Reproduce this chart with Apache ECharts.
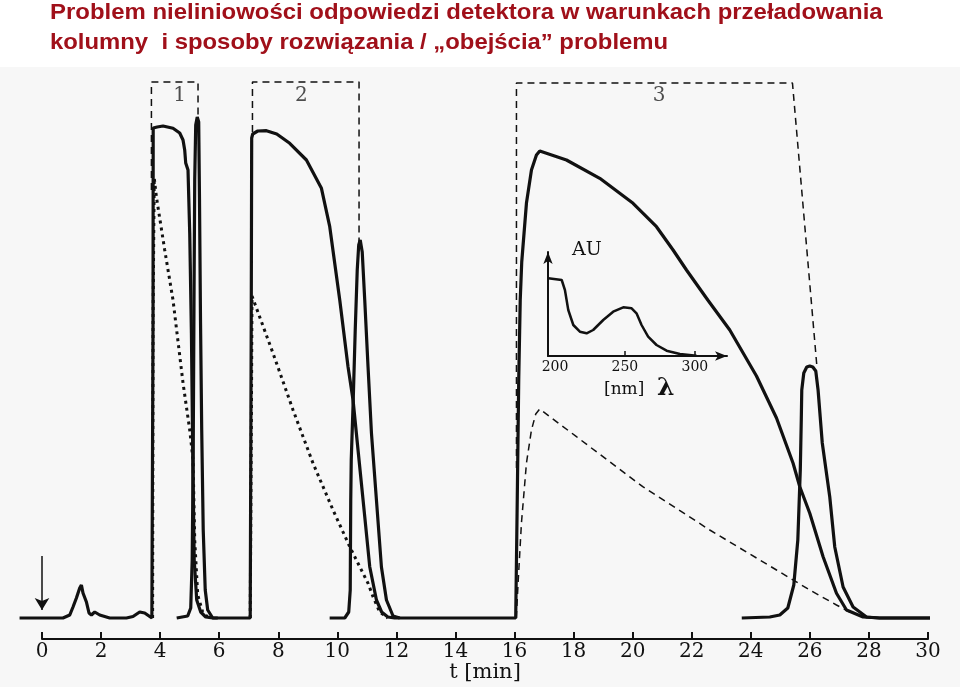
<!DOCTYPE html>
<html><head><meta charset="utf-8">
<script src="https://cdn.jsdelivr.net/npm/echarts@6/dist/echarts.min.js"></script>
<style>html,body{margin:0;padding:0;background:#fff}#c{width:960px;height:687px}</style>
</head><body><div id="c"></div>
<script>
// ---- Main chromatogram: time [min] vs detector signal (arbitrary units) ----
const mainT = [-0.76,0.71,0.94,1.05,1.165,1.277,1.334,1.388,1.504,1.592,1.673,1.785,1.954,2.293,2.858,3.082,3.308,3.477,3.647,3.72,3.75,3.76,3.765,3.9,4.098,4.436,4.663,4.775,4.832,4.866,4.944,5.002,5.059,5.103,5.154,5.239,5.374,5.544,5.78,7.05,7.085,7.10,7.135,7.307,7.599,7.948,8.388,8.953,9.462,9.743,10.082,10.362,10.532,10.701,10.928,11.097,11.324,11.50,11.71,11.94,16.04,16.058,16.092,16.142,16.193,16.244,16.404,16.573,16.742,16.854,17.758,18.886,20.013,20.806,21.368,21.822,22.543,23.288,24.192,24.870,25.432,25.659,25.997,26.448,26.901,27.240,27.802,28.365,30.12];
const mainV = [0,0,3,11,20,30,33,25,16,5,3,6,3,0,0,1.5,6,5,1.5,0,0,300,490,491,492,489.7,485,478,468,455,448,385,285,168,58,18,6,1,0,0,300,480,484,487,487.3,484,474.7,458,429.7,391.3,318,251.3,218,168,101.3,51.3,18,6,1,0,0,0,118,238,318,356,415,448,463,467,458,439.7,414.7,391.3,368,348,318,288,242,200,154.7,131.3,104.7,61.3,24.7,8,1,0,0];

const spike1T = [4.561,4.934,5.036,5.086,5.12,5.147,5.171,5.205,5.256,5.306,5.333,5.367,5.408,5.459,5.527,5.611,5.78,5.95];
const spike1V = [0,2,10,58,168,318,438,493,501,496,418,298,188,88,28,8,0,0];

const spike2T = [9.74,10.251,10.386,10.437,10.454,10.471,10.538,10.606,10.674,10.724,10.775,10.843,10.928,11.040,11.155,11.324,11.493,11.663,11.886,12.113];
const spike2V = [0,0,6,28,118,158,218,288,348,373,378,366,318,251,185,118,51,18,2,0];

const spike3T = [23.694,24.643,24.982,25.253,25.456,25.592,25.676,25.709,25.726,25.794,25.895,25.997,26.099,26.200,26.278,26.42,26.674,26.843,27.125,27.464,27.918,28.36,30.12];
const spike3V = [0,1,3,10,33,78,148,198,228,245,251,252,251,247,228,175,121,71,31,11,1,0,0];

const dot1T = [3.745,3.76,3.80,3.874,4.155,4.436,4.775,5.002,5.114,5.171,5.273,5.44,5.61];
const dot1V = [0,300,440,421,368,318,235,188,158,78,23,6,1];

const dot2T = [7.05,7.09,7.11,7.145,7.823,8.5,9.177,9.854,10.420,10.758,11.040,11.209,11.436,11.707];
const dot2V = [0,200,322,321,264.7,208,154.7,108,71.3,51.3,34.7,21.3,6,0];

const dash3T = [16.06,16.065,16.126,16.234,16.404,16.573,16.718,16.854,18.097,20.342,22.611,24.870,25.997,26.901,27.28,27.52];
const dash3V = [0,1.3,38,95,155,188,204,209,181.3,131.3,88,48,28,13,7,4];

// dashed "true peak" boxes
const box1T = [3.705,3.705,5.283,5.283];   const box1V = [428,536,536,501];
const box2T = [7.126,7.126,10.735,10.735]; const box2V = [486,536,536,373];
const box3T = [16.065,16.065,25.411,26.234]; const box3V = [150,535,535,253];

const boxLabels = ['1','2','3'];
const boxLabelT = [4.663,8.783,20.894];
const boxLabelV = [522,522,522];

const injectT = [0,0];
const injectV = [62,8];

// ---- Inset: UV spectrum ----
const specNm = [195.2,204.8,207.1,209.5,213.1,217.8,222.6,227.3,234.5,241.6,248.8,254.8,258.3,261.9,266.6,272.6,279.8,289.3,301.2];
const specAU = [0.777,0.76,0.66,0.46,0.31,0.243,0.227,0.26,0.36,0.443,0.487,0.477,0.427,0.31,0.193,0.11,0.053,0.02,0.003];
const specTicks = [200,250,300];

const T_MIN_DATA = -0.76;  // trace starts a little before t = 0

const zip = (a,b) => a.map((v,i)=>[v,b[i]]);
const INK = '#111';
const solid = (name, t, v) => ({name, type:'line', data:zip(t,v), showSymbol:false, clip:false,
  lineStyle:{color:INK, width:3.2}, z:3, silent:true});
const dotted = (name, t, v) => ({name, type:'line', data:zip(t,v), showSymbol:false, clip:false,
  lineStyle:{color:INK, width:3, type:[3,4]}, z:2, silent:true});
const dashed = (name, t, v) => ({name, type:'line', data:zip(t,v), showSymbol:false, clip:false,
  lineStyle:{color:INK, width:1.5, type:[7,5]}, z:2, silent:true});

const chart = echarts.init(document.getElementById('c'), null, {renderer:'canvas'});
const mainSeries = solid('main', mainT, mainV);
mainSeries.markLine = {symbol:['none','arrow'], symbolSize:[11,12], silent:true, label:{show:false},
  lineStyle:{color:INK, width:1.5, type:'solid'},
  data:[[{coord:[injectT[0],injectV[0]]},{coord:[injectT[1],injectV[1]]}]]};

const TITLE_FONT = 'bold 22px "Liberation Sans"';
const TITLE_COLOR = '#a0101a';
// plot width 886 px for 30 min -> the data grid extends left by 0.76 min
const PX_PER_MIN = 886 / 30;

chart.setOption({
  animation:false,
  backgroundColor:'#ffffff',
  graphic:[
    {type:'rect', shape:{x:0,y:67,width:960,height:620}, style:{fill:'#f7f7f7'}, z:-100, silent:true},
    {type:'text', x:50, y:13, scaleX:1.088, style:{text:'Problem nieliniowości odpowiedzi detektora w warunkach przeładowania', font:TITLE_FONT, fill:TITLE_COLOR, verticalAlign:'middle'}},
    {type:'text', x:50, y:43, scaleX:1.085, style:{text:'kolumny  i sposoby rozwiązania / „obejścia” problemu', font:TITLE_FONT, fill:TITLE_COLOR, verticalAlign:'middle'}},
    {type:'text', x:572, y:250, style:{text:'AU', font:'19px "DejaVu Serif"', fill:INK, verticalAlign:'middle'}},
    {type:'text', x:604, y:390, style:{text:'[nm]', font:'17px "DejaVu Serif"', fill:INK, verticalAlign:'middle'}},
    {type:'text', x:657, y:388, style:{text:'λ', font:'bold 25px "DejaVu Serif"', fill:INK, verticalAlign:'middle'}}
  ],
  grid:[
    {left:42 + T_MIN_DATA * PX_PER_MIN, right:32, top:70, bottom:48, outerBoundsMode:'none', containLabel:false},
    {left:548, top:252, width:179, height:104, outerBoundsMode:'none', containLabel:false},
    {left:42, right:32, top:70, bottom:48, outerBoundsMode:'none', containLabel:false}
  ],
  xAxis:[
    {type:'value', gridIndex:0, min:T_MIN_DATA, max:30, show:false},
    {type:'value', gridIndex:1, min:195, max:323,
     axisLine:{onZero:false, symbol:['none','arrow'], symbolSize:[7,12], lineStyle:{color:INK, width:2}},
     axisTick:{inside:true, length:5, customValues:[250,300], lineStyle:{color:INK, width:1.5}},
     axisLabel:{customValues:specTicks, color:INK, fontFamily:'DejaVu Serif', fontSize:14, margin:4},
     splitLine:{show:false}},
    {type:'value', gridIndex:2, min:0, max:30, interval:2,
     axisLine:{onZero:false, lineStyle:{color:INK, width:2}},
     axisTick:{inside:true, length:7, lineStyle:{color:INK, width:2}},
     axisLabel:{color:INK, fontFamily:'DejaVu Serif', fontSize:20, margin:3},
     splitLine:{show:false},
     name:'t [min]', nameLocation:'middle', nameGap:23, nameMoveOverlap:false,
     nameTextStyle:{color:INK, fontFamily:'DejaVu Serif', fontSize:21}}
  ],
  yAxis:[
    {type:'value', gridIndex:0, min:-21, max:548, show:false},
    {type:'value', gridIndex:1, min:0, max:1.04,
     axisLine:{show:true, onZero:false, symbol:['none','arrow'], symbolSize:[7,12], lineStyle:{color:INK, width:2}},
     axisTick:{show:false}, axisLabel:{show:false}, splitLine:{show:false}},
    {type:'value', gridIndex:2, min:-21, max:548, show:false}
  ],
  series:[
    mainSeries,
    solid('spike1', spike1T, spike1V),
    solid('spike2', spike2T, spike2V),
    solid('spike3', spike3T, spike3V),
    dotted('dot1', dot1T, dot1V),
    dotted('dot2', dot2T, dot2V),
    dashed('dash3', dash3T, dash3V),
    dashed('box1', box1T, box1V),
    dashed('box2', box2T, box2V),
    dashed('box3', box3T, box3V),
    {name:'labels', type:'scatter', symbolSize:0, silent:true,
     data:boxLabels.map((s,i)=>({name:s, value:[boxLabelT[i], boxLabelV[i]]})),
     label:{show:true, position:'inside', formatter:p=>p.name, color:'#222', fontFamily:'DejaVu Serif', fontSize:20}},
    {name:'spectrum', type:'line', xAxisIndex:1, yAxisIndex:1, data:zip(specNm, specAU), showSymbol:false,
     lineStyle:{color:INK, width:2.5}, silent:true}
  ]
});
</script></body></html>
